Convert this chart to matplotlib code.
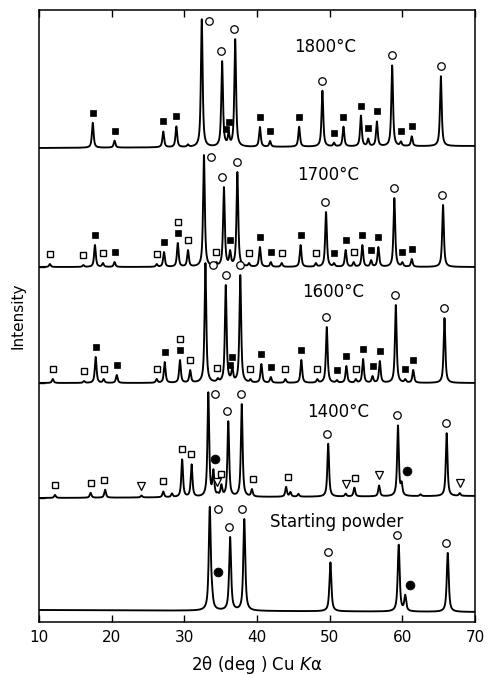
import numpy as np
import matplotlib.pyplot as plt

# trace names, top to bottom
labels = ["1800°C", "1700°C", "1600°C", "1400°C", "Starting powder"]

pos_1800 = [17.4, 20.4, 27.1, 28.9, 30.5, 32.4, 35.2, 35.7, 36.1, 37.0, 40.4, 41.8,
            45.8, 49.0, 50.6, 51.9, 54.3, 55.3, 56.5, 58.6, 59.8, 61.3, 65.3]
int_1800 = [25, 7, 16, 21, 3, 128, 86, 6, 15, 108, 20, 6,
            20, 56, 4, 20, 31, 8, 25, 81, 5, 10, 70]

pos_1700 = [11.5, 16.1, 17.7, 18.8, 20.4, 26.2, 27.2, 29.1, 30.5, 32.7, 34.4, 35.45,
            36.3, 37.3, 38.9, 40.4, 41.9, 43.4, 46.0, 48.1, 49.5, 50.6, 52.2, 53.3,
            54.5, 55.7, 56.7, 58.9, 60.0, 61.3, 65.6]
int_1700 = [3, 2, 22, 4, 5, 3, 15, 24, 17, 112, 5, 80,
            17, 95, 4, 20, 5, 4, 22, 4, 55, 4, 17, 5,
            22, 7, 20, 69, 5, 8, 62]

pos_1600 = [11.9, 16.2, 17.8, 18.9, 20.7, 26.2, 27.3, 29.4, 30.8, 32.9, 34.6, 35.7,
            36.3, 36.6, 37.7, 39.1, 40.6, 41.9, 43.9, 46.1, 48.3, 49.6, 51.0, 52.3,
            53.6, 54.6, 55.9, 56.9, 59.1, 60.4, 61.5, 65.8]
int_1600 = [4, 2, 26, 4, 8, 4, 21, 23, 13, 120, 5, 98,
            6, 16, 108, 4, 19, 6, 4, 23, 4, 56, 3, 17,
            4, 24, 7, 22, 78, 4, 13, 65]

pos_1400 = [12.2, 17.1, 19.1, 24.1, 27.1, 28.3, 29.7, 31.0, 33.3, 34.0, 34.6, 35.1,
            36.05, 37.9, 39.3, 44.0, 44.6, 45.7, 49.8, 52.2, 53.4, 56.8, 59.4, 59.9,
            62.5, 66.1, 67.9]
int_1400 = [3, 5, 8, 2, 6, 4, 38, 33, 105, 28, 5, 13,
            76, 93, 8, 10, 5, 3, 53, 3, 9, 11, 71, 15,
            2, 63, 3]

pos_start = [33.5, 33.8, 36.3, 38.25, 50.1, 59.5, 60.4, 66.25]
int_start = [104, 29, 74, 92, 49, 67, 17, 59]

# background level at 10 and 70 deg
bg_1800 = [0, 2]
bg_1700 = [0, 0]
bg_1600 = [0, 0]
bg_1400 = [0, 2]
bg_start = [2, 0]

# phase markers: (symbol, marker 2theta, 2theta of the peak it labels)
# oc = open circle, fs = filled square, os = open square, tr = triangle, fc = filled circle
mk_1800 = [("fs", 17.4, 17.4), ("fs", 20.4, 20.4), ("fs", 27.1, 27.1), ("fs", 28.9, 28.9),
           ("oc", 33.4, 32.4), ("oc", 35.0, 35.2), ("oc", 36.8, 37.0), ("fs", 35.8, 35.7),
           ("fs", 36.1, 36.1), ("fs", 40.4, 40.4), ("fs", 41.8, 41.8), ("fs", 45.8, 45.8),
           ("oc", 48.9, 49.0), ("fs", 50.6, 50.6), ("fs", 51.9, 51.9), ("fs", 54.3, 54.3),
           ("fs", 55.3, 55.3), ("fs", 56.5, 56.5), ("oc", 58.6, 58.6), ("fs", 59.8, 59.8),
           ("fs", 61.3, 61.3), ("oc", 65.3, 65.3)]
mk_1700 = [("os", 11.5, 11.5), ("os", 16.1, 16.1), ("fs", 17.7, 17.7), ("os", 18.8, 18.8),
           ("fs", 20.4, 20.4), ("os", 26.2, 26.2), ("fs", 27.2, 27.2), ("fs", 29.1, 29.1),
           ("os", 29.1, 29.1), ("os", 30.5, 30.5), ("oc", 33.7, 32.7), ("os", 34.4, 34.4),
           ("oc", 35.2, 35.45), ("fs", 36.3, 36.3), ("oc", 37.2, 37.3), ("os", 38.9, 38.9),
           ("fs", 40.4, 40.4), ("fs", 41.9, 41.9), ("os", 43.4, 43.4), ("fs", 46.0, 46.0),
           ("os", 48.1, 48.1), ("oc", 49.4, 49.5), ("fs", 50.6, 50.6), ("fs", 52.2, 52.2),
           ("os", 53.3, 53.3), ("fs", 54.5, 54.5), ("fs", 55.7, 55.7), ("fs", 56.7, 56.7),
           ("oc", 58.8, 58.9), ("fs", 60.0, 60.0), ("fs", 61.3, 61.3), ("oc", 65.5, 65.6)]
mk_1600 = [("os", 11.9, 11.9), ("os", 16.2, 16.2), ("fs", 17.8, 17.8), ("os", 18.9, 18.9),
           ("fs", 20.7, 20.7), ("os", 26.2, 26.2), ("fs", 27.3, 27.3), ("fs", 29.4, 29.4),
           ("os", 29.4, 29.4), ("os", 30.8, 30.8), ("oc", 33.9, 32.9), ("os", 34.5, 34.6),
           ("oc", 35.7, 35.7), ("fs", 36.3, 36.3), ("fs", 36.6, 36.6), ("oc", 37.6, 37.7),
           ("os", 39.1, 39.1), ("fs", 40.6, 40.6), ("fs", 41.9, 41.9), ("os", 43.9, 43.9),
           ("fs", 46.1, 46.1), ("os", 48.3, 48.3), ("oc", 49.5, 49.6), ("fs", 51.0, 51.0),
           ("fs", 52.3, 52.3), ("os", 53.6, 53.6), ("fs", 54.6, 54.6), ("fs", 55.9, 55.9),
           ("fs", 56.9, 56.9), ("oc", 59.0, 59.1), ("fs", 60.4, 60.4), ("fs", 61.5, 61.5),
           ("oc", 65.7, 65.8)]
mk_1400 = [("os", 12.2, 12.2), ("os", 17.1, 17.1), ("os", 19.0, 19.1), ("tr", 24.1, 24.1),
           ("os", 27.0, 27.1), ("os", 29.7, 29.7), ("os", 30.9, 31.0), ("oc", 34.2, 33.3),
           ("fc", 34.2, 34.0), ("tr", 34.45, 34.6), ("os", 35.0, 35.1), ("oc", 35.9, 36.05),
           ("oc", 37.8, 37.9), ("os", 39.5, 39.3), ("os", 44.2, 44.0), ("oc", 49.6, 49.8),
           ("tr", 52.2, 52.2), ("os", 53.5, 53.4), ("tr", 56.8, 56.8), ("oc", 59.2, 59.4),
           ("fc", 60.7, 59.9), ("oc", 66.0, 66.1), ("tr", 67.9, 67.9)]
mk_start = [("oc", 34.6, 33.5), ("fc", 34.6, 33.8), ("oc", 36.2, 36.3), ("oc", 38.0, 38.25),
            ("oc", 49.8, 50.1), ("oc", 59.2, 59.5), ("fc", 61.1, 60.4), ("oc", 66.0, 66.25)]

positions = [pos_1800, pos_1700, pos_1600, pos_1400, pos_start]
heights = [int_1800, int_1700, int_1600, int_1400, int_start]
backgrounds = [bg_1800, bg_1700, bg_1600, bg_1400, bg_start]
markers = [mk_1800, mk_1700, mk_1600, mk_1400, mk_start]

# layout: vertical offset of each trace, peak half width, label placement
offsets = [474, 355, 239, 124, 10]
hwhm = [0.14, 0.14, 0.14, 0.14, 0.16]
label_xy = [(49.4, 575), (49.8, 447), (50.5, 330), (51.1, 210), (50.9, 100)]

styles = {
    "oc": dict(marker="o", ms=5.4, mfc="white", mec="black", mew=0.9),
    "fs": dict(marker="s", ms=5.0, mfc="black", mec="black", mew=0.5),
    "os": dict(marker="s", ms=4.2, mfc="white", mec="black", mew=1.0),
    "tr": dict(marker="v", ms=5.4, mfc="white", mec="black", mew=0.9),
    "fc": dict(marker="o", ms=6.4, mfc="black", mec="black", mew=0.5),
}


def shape(d, w, eta=0.8):
    u = (d / w) ** 2
    return eta / (1 + u) + (1 - eta) * np.exp(-np.log(2) * u)


tt = np.linspace(10, 70, 6001)

fig = plt.figure(figsize=(4.93, 6.75), dpi=100)
ax = fig.add_axes([39 / 493, 53 / 675, 436 / 493, 612 / 675])

for pos, h, bg, mks, off, w, lab, lxy in zip(positions, heights, backgrounds, markers,
                                              offsets, hwhm, labels, label_xy):
    pos = np.array(pos)
    h = np.array(h, dtype=float)
    # amplitudes so that the summed profile reaches the observed heights
    M = shape(pos[:, None] - pos[None, :], w)
    amp = np.clip(np.linalg.solve(M, h), 0.5, None)
    prof = (amp[None, :] * shape(tt[:, None] - pos[None, :], w)).sum(axis=1)
    base = np.interp(tt, [10, 70], bg)
    y = off + base + prof
    ax.plot(tt, y, color="black", lw=1.35)

    tallest = pos[np.argmax(h)]
    seen = {}
    for sym, mx, px in mks:
        ytop = np.interp(px, tt, y)
        if px == tallest:
            my = ytop - 2
        else:
            my = ytop + 10
        n = seen.get(px, 0)
        seen[px] = n + 1
        my = min(my + 11 * n, 604)
        ax.plot([mx], [my], ls="none", **styles[sym])

    ax.text(lxy[0], lxy[1], lab, ha="center", va="center", fontsize=12)

ax.set_xlim(10, 70)
ax.set_ylim(0, 612)
ax.set_xticks(range(10, 71, 10))
ax.set_yticks(offsets[1:4])
ax.set_yticklabels([])
ax.tick_params(axis="x", direction="in", top=True, length=5, width=1, labelsize=11, pad=6)
ax.tick_params(axis="y", direction="in", length=4, width=1)
for sp in ax.spines.values():
    sp.set_linewidth(1.1)

ax.set_xlabel("2θ (deg ) Cu $K$α", fontsize=12, labelpad=6)
ax.set_ylabel("Intensity", fontsize=11, labelpad=6)

fig.savefig("out.png", dpi=100)
